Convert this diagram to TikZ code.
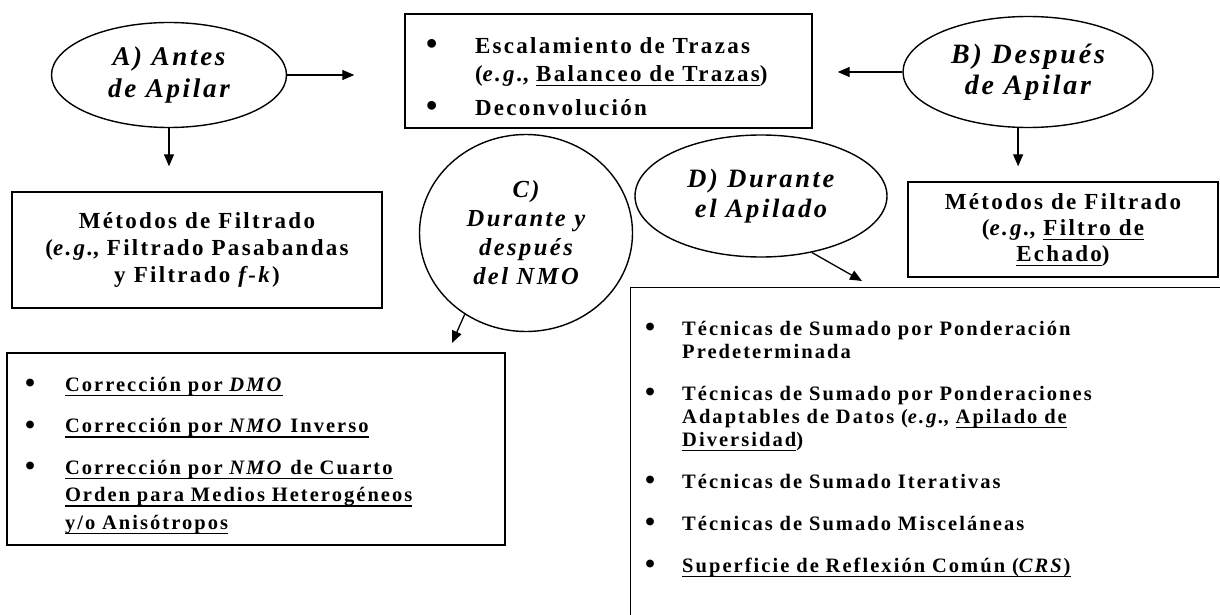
\documentclass[tikz,border=0pt]{standalone}
\usepackage{fontspec}
\setmainfont{Liberation Serif}[LetterSpace=10]
\usetikzlibrary{shapes,arrows.meta,positioning}
\newsavebox{\cajasub}
\newcommand{\subr}[1]{\sbox{\cajasub}{#1}\leavevmode\rlap{\rule[-4.9pt]{\wd\cajasub}{1.4pt}}\usebox{\cajasub}}
\newcommand{\punto}{\rlap{\raisebox{-0.07em}{\scalebox{1.4}{\textbullet}}}}
\tikzstyle{caja}=[rectangle, draw=black, line width=1.4, inner sep=0pt]
\tikzstyle{elip}=[ellipse, draw=black, line width=1.4, fill=white, inner sep=0pt, align=center, font=\bfseries\itshape\fontsize{27}{32}\selectfont]
\tikzstyle{fl}=[line width=1.3, -{Triangle[length=12pt, width=10pt]}]
\newcommand{\eg}{(\textit{e.g.},}
\newenvironment{vinetas}[3]{\begin{list}{\punto}{\setlength{\labelwidth}{0pt}\setlength{\labelsep}{#1}\setlength{\leftmargin}{#2}\setlength{\itemsep}{#3}\setlength{\topsep}{0pt}\setlength{\partopsep}{0pt}\setlength{\parsep}{0pt}}}{\end{list}}

\begin{document}
\begin{tikzpicture}[x=1pt, y=-1pt]
    \useasboundingbox (0,0) rectangle (1220,615);
    \clip (0,0) rectangle (1220,615);

    % elipses
    \node[elip, minimum width=235pt, minimum height=105pt] (A) at (169,75) {A) Antes\\ de Apilar};
    \node[elip, minimum width=250pt, minimum height=111pt, font=\bfseries\itshape\fontsize{28}{31}\selectfont] (B) at (1028,72) {B) Después\\ de Apilar};
    \node[elip, minimum width=213pt, minimum height=197pt, font=\bfseries\itshape\fontsize{24.5}{29}\selectfont] (C) at (526,233) {C)\\ Durante y\\ después\\ del NMO};
    \node[elip, minimum width=252pt, minimum height=122pt, font=\bfseries\itshape\fontsize{26.5}{30}\selectfont] (D) at (761,196) {D) Durante\\ el Apilado};

    % cajas
    \node[caja, minimum width=407pt, minimum height=114pt, text width=363pt, inner xsep=22pt, font=\bfseries\fontsize{23}{28}\selectfont] (trazas) at (608.5,71) {%
        \begin{vinetas}{49pt}{48pt}{6pt}
            \item Escalamiento de Trazas\\ \eg{} \subr{Balanceo de Trazas})
            \item Deconvolución
        \end{vinetas}};
    \node[caja, minimum width=370pt, minimum height=116pt, align=center, font=\bfseries\fontsize{23}{27}\selectfont] (filtA) at (197,250) {Métodos de Filtrado\\ \eg{} Filtrado Pasabandas\\ y Filtrado \textit{f-k})};
    \node[caja, minimum width=310pt, minimum height=95pt, align=center, font=\bfseries\fontsize{23}{26}\selectfont] (filtB) at (1063,229.5) {Métodos de Filtrado\\ \eg{} \subr{Filtro de}\\ \subr{Echado})};
    \node[caja, minimum width=498pt, minimum height=192pt, text width=462pt, inner xsep=18pt, font=\bfseries\fontsize{20.5}{27.5}\selectfont] (cajaC) at (256,449) {%
        \begin{vinetas}{40pt}{40pt}{14pt}
            \item \subr{Corrección por \textit{DMO}}
            \item \subr{Corrección por \textit{NMO} Inverso}
            \item \subr{Corrección por \textit{NMO} de Cuarto}\\ \subr{Orden para Medios Heterogéneos}\\ \subr{y/o Anisótropos}
        \end{vinetas}};
    \node[caja, minimum width=640pt, minimum height=360pt, anchor=north west] (cajaD) at (630,287) {};
    \node[anchor=north west, inner sep=0pt, text width=560pt, font=\bfseries\fontsize{20.5}{23}\selectfont] (listaD) at ([xshift=15pt, yshift=-25pt]cajaD.north west) {%
        \begin{vinetas}{37pt}{37pt}{19pt}
            \item Técnicas de Sumado por Ponderación\\ Predeterminada
            \item Técnicas de Sumado por Ponderaciones\\ Adaptables de Datos (\textit{e.g.}, \subr{Apilado de}\\ \subr{Diversidad})
            \item Técnicas de Sumado Iterativas
            \item Técnicas de Sumado Misceláneas
            \item \subr{Superficie de Reflexión Común (\textit{CRS})}
        \end{vinetas}};

    % flechas
    \coordinate (pC) at (452,343);
    \coordinate (pD) at (862,281);
    \draw[fl, shorten >=50pt] (A.east) -- (A.east -| trazas.west);
    \draw[fl, shorten >=25pt] (B.west) -- (B.west -| trazas.east);
    \draw[fl, shorten >=25pt] (A.south) -- (A.south |- filtA.north);
    \draw[fl, shorten >=15pt] (B.260) -- (B.260 |- filtB.north);
    \draw[fl] (C.233) -- (pC);
    \draw[fl] (D.-48) -- (pD);
\end{tikzpicture}
\end{document}
